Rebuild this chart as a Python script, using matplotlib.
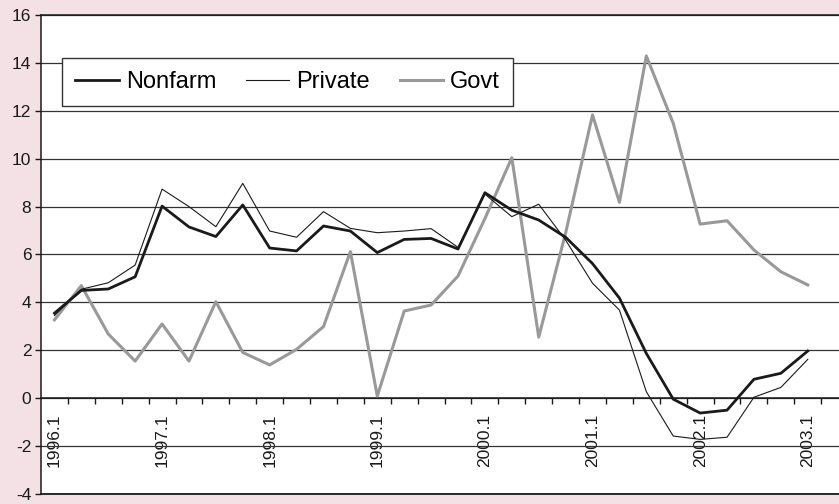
import numpy as np
import matplotlib
matplotlib.use("Agg")
import matplotlib.pyplot as plt

# quarterly payroll employment growth, annualized percent
quarters = ["1996.1", "1996.2", "1996.3", "1996.4",
            "1997.1", "1997.2", "1997.3", "1997.4",
            "1998.1", "1998.2", "1998.3", "1998.4",
            "1999.1", "1999.2", "1999.3", "1999.4",
            "2000.1", "2000.2", "2000.3", "2000.4",
            "2001.1", "2001.2", "2001.3", "2001.4",
            "2002.1", "2002.2", "2002.3", "2002.4",
            "2003.1"]

nonfarm = [3.55, 4.5, 4.56, 5.07, 8.02, 7.15, 6.75, 8.07,
           6.27, 6.15, 7.19, 6.98, 6.08, 6.63, 6.67, 6.23,
           8.58, 7.85, 7.44, 6.72, 5.62, 4.18, 1.87, -0.04,
           -0.62, -0.5, 0.79, 1.04, 1.97]

private = [3.45, 4.55, 4.82, 5.56, 8.73, 8.0, 7.16, 8.97,
           6.98, 6.72, 7.79, 7.09, 6.91, 6.98, 7.08, 6.3,
           8.52, 7.58, 8.1, 6.6, 4.8, 3.68, 0.27, -1.58,
           -1.72, -1.63, 0.04, 0.45, 1.62]

govt = [3.27, 4.7, 2.68, 1.55, 3.1, 1.55, 4.03, 1.91,
        1.39, 2.04, 2.99, 6.12, 0.09, 3.64, 3.89, 5.1,
        7.5, 10.04, 2.55, 6.9, 11.83, 8.18, 14.29, 11.48,
        7.27, 7.41, 6.19, 5.28, 4.73]

pink = "#f3e1e5"
plt.rcParams["font.family"] = ["Liberation Sans", "DejaVu Sans"]
plt.rcParams["axes.unicode_minus"] = False

W, H = 839, 504
fig = plt.figure(figsize=(W / 100, H / 100), dpi=100, facecolor=pink)
ax = fig.add_axes([41 / W, 1 - 494 / H, (W - 41) / W, 479 / H])
ax.set_facecolor("white")

x = np.arange(len(quarters))
ax.plot(x, govt, color="#999999", lw=2.2, label="Govt", zorder=3)
ax.plot(x, private, color="#1a1a1a", lw=0.8, label="Private", zorder=4)
ax.plot(x, nonfarm, color="#1a1a1a", lw=2.0, label="Nonfarm", zorder=5)

step = (808 - 54.7) / 28
ax.set_xlim(-0.5, -0.5 + (W - 41) / step)
ax.set_ylim(-4, 16)

# horizontal grid
ax.set_yticks(np.arange(-4, 17, 2))
ax.yaxis.grid(True, color="#333333", lw=0.9)
ax.set_axisbelow(True)
ax.tick_params(axis="y", direction="out", length=4, width=1, labelsize=12.5,
               pad=3, colors="#1a1a1a")

# category axis at zero, tick marks between categories
ax.spines["bottom"].set_position(("data", 0))
ax.spines["right"].set_visible(False)
for s in ["left", "top", "bottom"]:
    ax.spines[s].set_color("#1a1a1a")
    ax.spines[s].set_linewidth(1.1)
ax.axhline(-4, color="#1a1a1a", lw=1.3, clip_on=False, zorder=6)

ax.set_xticks(x[::4])
ax.set_xticklabels(quarters[::4], rotation=90)
ax.set_xticks(np.arange(0.5, len(quarters), 1), minor=True)
ax.tick_params(axis="x", which="major", length=0, pad=11, labelsize=12.5,
               colors="#1a1a1a")
ax.tick_params(axis="x", which="minor", direction="out", length=4, width=1,
               color="#1a1a1a")

handles, labels = ax.get_legend_handles_labels()
order = [2, 1, 0]
leg = ax.legend([handles[i] for i in order], [labels[i] for i in order],
                ncol=3, loc="upper left", bbox_to_anchor=(62 / W, 1 - 58 / H),
                bbox_transform=fig.transFigure, borderaxespad=0,
                fontsize=17, frameon=True, fancybox=False, framealpha=1,
                edgecolor="#333333", handlelength=1.85, handletextpad=0.3,
                columnspacing=1.25, borderpad=0.55)
leg.get_frame().set_linewidth(1.0)
leg.set_zorder(10)

fig.savefig("out.png", dpi=100, facecolor=pink)
